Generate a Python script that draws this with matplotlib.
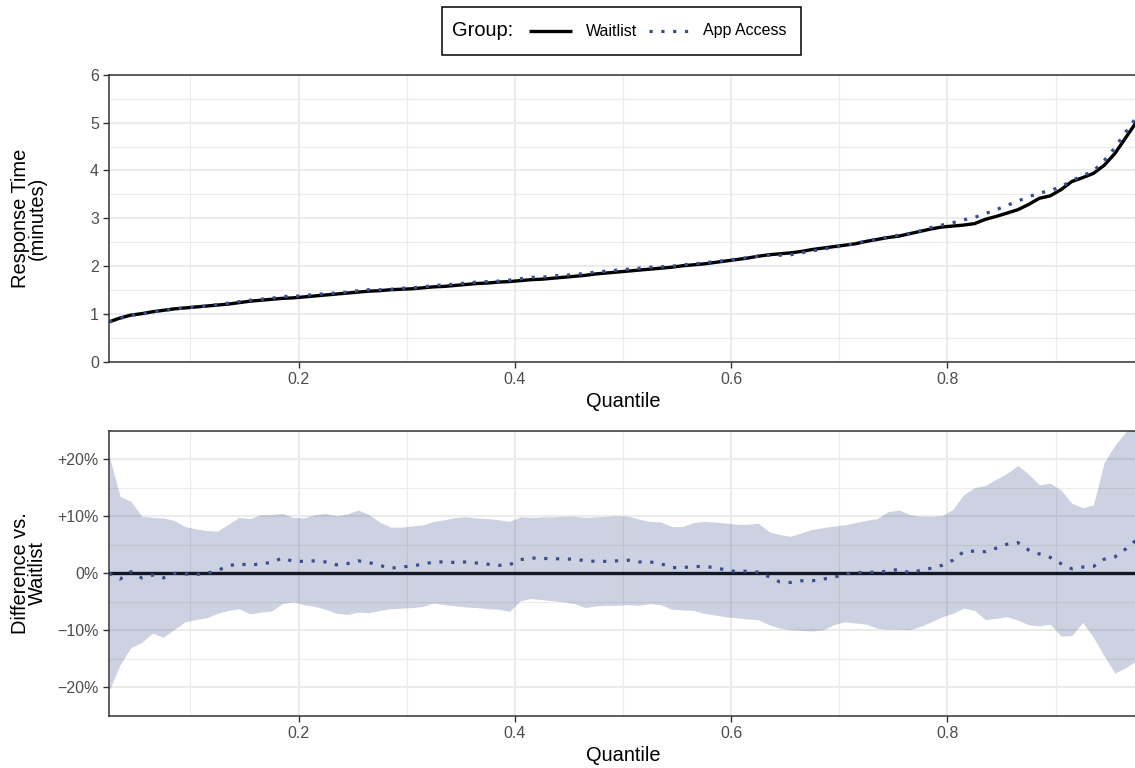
import numpy as np
import matplotlib
matplotlib.use('Agg')
import matplotlib.pyplot as plt
from matplotlib.lines import Line2D
from matplotlib.patches import Rectangle
from matplotlib.ticker import FixedLocator

plt.rcParams['font.family'] = ['Liberation Sans', 'DejaVu Sans']

# quantile levels the response-time distributions were evaluated at
quantiles = np.round(np.arange(0.025, 0.9751, 0.01), 3)

# response time (minutes) by quantile
waitlist = [
    0.84, 0.92, 0.98, 1.01, 1.05, 1.08, 1.11, 1.13, 1.15, 1.17,
    1.19, 1.21, 1.24, 1.27, 1.29, 1.31, 1.33, 1.34, 1.36, 1.38,
    1.40, 1.42, 1.44, 1.46, 1.48, 1.49, 1.51, 1.52, 1.53, 1.55,
    1.57, 1.58, 1.60, 1.62, 1.64, 1.65, 1.67, 1.68, 1.70, 1.72,
    1.73, 1.75, 1.77, 1.79, 1.81, 1.84, 1.86, 1.88, 1.90, 1.92,
    1.94, 1.96, 1.98, 2.01, 2.03, 2.05, 2.08, 2.11, 2.14, 2.17,
    2.21, 2.24, 2.26, 2.28, 2.31, 2.35, 2.38, 2.41, 2.44, 2.47,
    2.52, 2.56, 2.60, 2.63, 2.68, 2.73, 2.78, 2.82, 2.84, 2.86,
    2.89, 2.98, 3.04, 3.11, 3.18, 3.29, 3.42, 3.47, 3.60, 3.77,
    3.85, 3.94, 4.11, 4.36, 4.69, 5.02,
]
app_access = [
    0.84, 0.91, 0.98, 1.00, 1.05, 1.07, 1.11, 1.13, 1.15, 1.17,
    1.20, 1.23, 1.26, 1.29, 1.31, 1.33, 1.37, 1.37, 1.39, 1.41,
    1.43, 1.44, 1.46, 1.49, 1.51, 1.51, 1.52, 1.54, 1.55, 1.57,
    1.60, 1.61, 1.63, 1.65, 1.67, 1.68, 1.69, 1.71, 1.74, 1.77,
    1.77, 1.80, 1.81, 1.83, 1.85, 1.88, 1.90, 1.92, 1.94, 1.96,
    1.98, 1.99, 2.00, 2.03, 2.05, 2.07, 2.10, 2.12, 2.15, 2.18,
    2.21, 2.23, 2.23, 2.24, 2.28, 2.32, 2.36, 2.39, 2.44, 2.47,
    2.53, 2.57, 2.61, 2.65, 2.68, 2.74, 2.81, 2.86, 2.91, 2.97,
    3.02, 3.10, 3.18, 3.27, 3.36, 3.45, 3.53, 3.58, 3.66, 3.79,
    3.89, 3.99, 4.21, 4.48, 4.81, 5.12,
]

# App Access vs. Waitlist difference (%) with interval bounds
diff_pct = [
    0.0, -1.0, 0.3, -0.8, -0.3, -0.8, 0.0, -0.1, -0.2, 0.0,
    0.5, 1.3, 1.7, 1.4, 1.7, 1.9, 2.7, 2.1, 2.1, 2.2,
    2.0, 1.5, 1.7, 2.2, 1.9, 1.4, 0.9, 1.1, 1.3, 1.6,
    2.0, 2.0, 1.9, 2.0, 1.8, 1.6, 1.4, 1.5, 2.4, 2.7,
    2.6, 2.6, 2.5, 2.5, 2.2, 2.1, 2.1, 2.2, 2.3, 2.0,
    2.0, 1.7, 1.0, 1.0, 1.2, 1.2, 1.0, 0.6, 0.3, 0.4,
    0.2, -0.6, -1.5, -1.6, -1.3, -1.3, -1.0, -0.7, -0.1, 0.1,
    0.2, 0.2, 0.4, 0.7, 0.1, 0.5, 0.9, 1.4, 2.3, 3.8,
    3.9, 3.8, 4.4, 5.1, 5.4, 4.1, 3.4, 2.8, 1.7, 0.8,
    1.1, 1.2, 2.5, 2.9, 4.3, 5.9,
]
diff_hi = [
    20.5, 13.5, 12.6, 10.0, 9.8, 9.7, 9.3, 8.2, 7.8, 7.5,
    7.4, 8.6, 9.8, 9.6, 10.3, 10.3, 10.5, 9.8, 9.7, 10.3,
    10.5, 10.1, 10.4, 11.1, 10.3, 9.0, 8.1, 8.1, 8.3, 8.5,
    9.1, 9.4, 9.8, 9.9, 9.7, 9.6, 9.4, 9.1, 9.9, 9.8,
    9.9, 9.9, 10.0, 10.0, 9.8, 9.9, 10.0, 10.1, 10.0, 9.5,
    9.1, 9.0, 8.2, 8.2, 8.9, 9.1, 9.0, 8.8, 8.6, 8.6,
    8.8, 7.3, 6.8, 6.5, 7.1, 7.7, 8.0, 8.3, 8.5, 8.9,
    9.3, 9.6, 10.8, 11.1, 10.3, 10.0, 10.0, 10.1, 11.2, 13.8,
    15.0, 15.4, 16.5, 17.5, 18.9, 17.4, 15.5, 15.8, 14.6, 12.3,
    11.5, 12.0, 19.5, 22.5, 24.8, 26.5,
]
diff_lo = [
    -20.5, -16.0, -13.0, -12.1, -10.5, -11.2, -9.8, -8.5, -8.1, -7.8,
    -7.0, -6.5, -6.2, -7.1, -6.8, -6.6, -5.3, -5.0, -5.5, -5.8,
    -6.3, -7.0, -7.2, -6.8, -6.9, -6.5, -6.2, -6.1, -6.0, -5.8,
    -5.2, -5.5, -5.7, -5.9, -6.0, -6.2, -6.3, -6.7, -4.8, -4.4,
    -4.6, -4.8, -5.0, -5.3, -6.0, -5.7, -5.6, -5.6, -5.5, -5.6,
    -5.3, -5.5, -6.3, -6.4, -6.5, -7.0, -7.3, -7.6, -7.8, -8.0,
    -8.1, -9.0, -9.6, -9.9, -10.0, -10.1, -9.9, -9.0, -8.5, -8.7,
    -8.9, -9.6, -9.8, -9.8, -9.9, -9.3, -8.5, -7.6, -7.0, -6.1,
    -6.5, -8.1, -7.9, -7.6, -8.2, -9.0, -9.2, -8.9, -11.0, -10.9,
    -8.6, -11.2, -14.5, -17.5, -16.5, -15.3,
]

pct_ticks = [-20, -10, 0, 10, 20]
pct_labels = ['\u221220%', '\u221210%', '0%', '+10%', '+20%']

APP_COLOR = '#3A4E8C'
GRID = '#EBEBEB'
DARK = '#333333'
wait_style = dict(color='black', lw=2.4, solid_capstyle='butt')
app_style = dict(color=APP_COLOR, lw=2.3, ls=(0, (1, 2.7)), dash_capstyle='butt')


def style_panel(ax, ylabel):
    ax.set_xlim(0.025, 0.975)
    ax.xaxis.set_major_locator(FixedLocator([0.2, 0.4, 0.6, 0.8]))
    ax.xaxis.set_minor_locator(FixedLocator([0.1, 0.3, 0.5, 0.7, 0.9]))
    ax.set_xticklabels(['0.2', '0.4', '0.6', '0.8'])
    ax.grid(which='major', color=GRID, lw=1.5)
    ax.grid(which='minor', color=GRID, lw=0.8)
    ax.set_axisbelow(True)
    ax.tick_params(which='major', length=4.3, width=1.0, color=DARK,
                   labelsize=11.5, labelcolor='#4D4D4D', pad=3.2)
    ax.tick_params(which='minor', length=0)
    for s in ax.spines.values():
        s.set_color(DARK)
        s.set_linewidth(1.1)
    ax.set_xlabel('Quantile', fontsize=14.4, labelpad=3)
    ax.set_ylabel(ylabel, fontsize=14.4, linespacing=0.9)
    # both panels share one y-title column
    ax.yaxis.set_label_coords(-0.0606, 0.5)


fig = plt.figure(figsize=(11.35, 7.68), dpi=100)
ax1 = fig.add_axes([0.0963, 0.5286, 0.9052, 0.3741])
ax2 = fig.add_axes([0.0963, 0.0677, 0.9052, 0.3715])

# top: response-time quantile curves
ax1.plot(quantiles, waitlist, **wait_style)
ax1.plot(quantiles, app_access, **app_style)
ax1.set_ylim(0, 6)
ax1.yaxis.set_major_locator(FixedLocator(range(0, 7)))
ax1.yaxis.set_minor_locator(FixedLocator(np.arange(0.5, 6, 1.0)))
style_panel(ax1, 'Response Time\n(minutes)')

# bottom: percentage difference with interval
ax2.fill_between(quantiles, diff_lo, diff_hi, color=APP_COLOR, alpha=0.25, lw=0)
ax2.axhline(0, color='#121826', lw=2.4)
ax2.plot(quantiles, diff_pct, **app_style)
ax2.set_ylim(-25, 25)
ax2.yaxis.set_major_locator(FixedLocator(pct_ticks))
ax2.yaxis.set_minor_locator(FixedLocator([-25, -15, -5, 5, 15, 25]))
ax2.set_yticklabels(pct_labels)
style_panel(ax2, 'Difference vs.\nWaitlist')

# legend box across the top
W, H = 1135.0, 768.0
fig.patches.append(Rectangle((442 / W, 1 - 55 / H), (801 - 442) / W, 48 / H,
                             transform=fig.transFigure, fill=False,
                             edgecolor='black', lw=1.1))
ly = 1 - 31 / H
fig.text(452 / W, ly, 'Group:', fontsize=14.4, va='center', ha='left')
fig.lines.append(Line2D([529 / W, 572 / W], [ly, ly], transform=fig.transFigure,
                        **wait_style))
fig.text(586 / W, ly, 'Waitlist', fontsize=11.5, va='center', ha='left')
fig.lines.append(Line2D([649 / W, 693 / W], [ly, ly], transform=fig.transFigure,
                        **app_style))
fig.text(703 / W, ly, 'App Access', fontsize=11.5, va='center', ha='left')

fig.savefig('out.png', dpi=100)
